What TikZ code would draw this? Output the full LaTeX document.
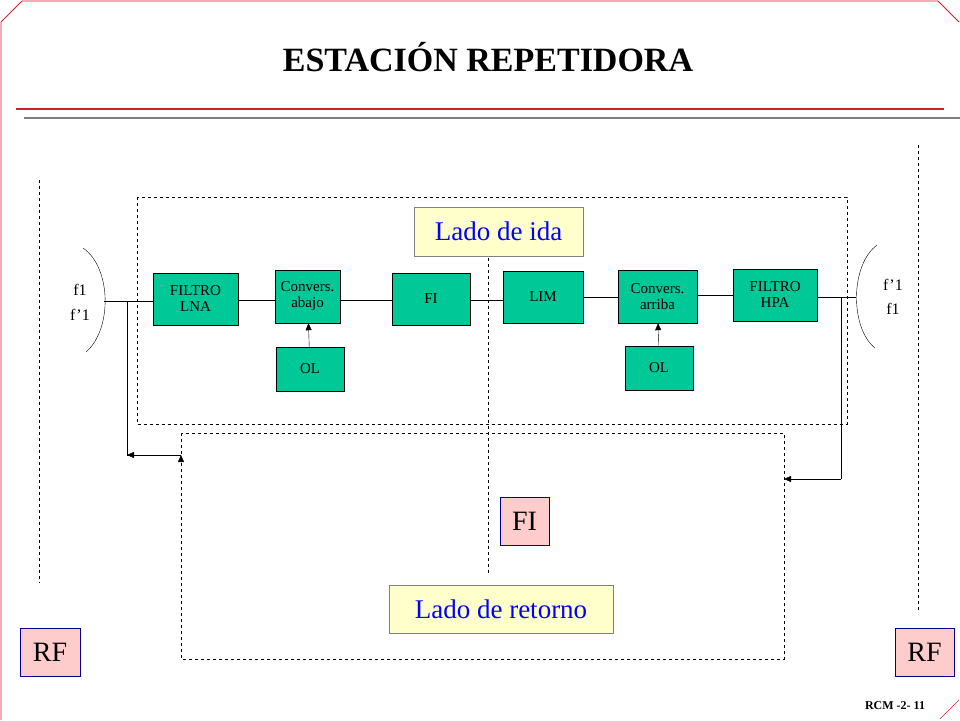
\documentclass[tikz,border=0pt]{standalone}
\usepackage{fontspec}
\setmainfont{Liberation Serif}
\usetikzlibrary{arrows.meta}
\definecolor{grn}{RGB}{0,200,150}
\definecolor{ylw}{RGB}{255,255,204}
\definecolor{pnk}{RGB}{255,204,204}
\definecolor{fr}{RGB}{210,30,40}
\begin{document}
\begin{tikzpicture}[x=1pt,y=-1pt,
  blk/.style={draw,fill=grn,inner sep=0pt,align=center,font=\fontsize{15}{16}\selectfont},
  lbl/.style={draw=gray,fill=ylw,inner sep=0pt,text=blue,font=\fontsize{27}{30}\selectfont},
  pbox/.style={draw=blue!60!black,fill=pnk,inner sep=0pt,font=\fontsize{28}{30}\selectfont},
  dsh/.style={dashed,thin},
  arr/.style={-{Triangle[length=7pt,width=6pt]}}]
\useasboundingbox (0,0) rectangle (960,720);
% frame
\draw[fr,thick] (1,720) -- (1,22) -- (22,1) -- (938,1) -- (959,22);
\draw[fr,thin] (940,719) -- (959,700);
\draw[fr,line width=2pt] (16,109) -- (944,109);
\draw[gray,line width=2pt] (24,118) -- (960,118);
\node (title) at (488,57) {\fontsize{34}{36}\selectfont\bfseries ESTACIÓN REPETIDORA};
\node (rcm) at (895,706) {\fontsize{12}{13}\selectfont\bfseries RCM -2- 11};
% dashed
\draw[dsh] (137,197) rectangle (847,424);
\draw[dsh] (181,433) rectangle (784,659);
\draw[dsh] (488,210) -- (488,573);
\draw[dsh] (39,180) -- (39,583);
\draw[dsh] (918,145) -- (918,612);
% blocks
\node[blk,minimum width=85,minimum height=52] (lna) at (195.5,299) {FILTRO\\LNA};
\node[blk,minimum width=65,minimum height=53] (cab) at (307.5,296.5) {Convers.\\abajo};
\node[blk,minimum width=78,minimum height=52] (fi) at (431,299) {FI};
\node[blk,minimum width=80,minimum height=52] (lim) at (543,297) {LIM};
\node[blk,minimum width=79,minimum height=53] (car) at (657.5,296.5) {Convers.\\arriba};
\node[blk,minimum width=84,minimum height=52] (hpa) at (775,295) {FILTRO\\HPA};
\node[blk,minimum width=68,minimum height=44] (ol1) at (310,369) {OL};
\node[blk,minimum width=68,minimum height=44] (ol2) at (659,368) {OL};
\draw (lna.east |- 0,300) -- (cab.west |- 0,300);
\draw (cab.east |- 0,300) -- (fi.west |- 0,300);
\draw (fi.east |- 0,300) -- (lim.west |- 0,300);
\draw (lim.east |- 0,297) -- (car.west |- 0,297);
\draw (car.east |- 0,295) -- (hpa.west |- 0,295);
\draw[arr] (ol1) -- (cab);
\draw[arr] (ol2) -- (car);
% labels
\node[lbl,minimum width=169,minimum height=49] (ida) at (498.5,231.5) {Lado de ida};
\node[pbox,minimum width=49,minimum height=48] (fib) at (524.5,521) {FI};
\node[lbl,minimum width=224,minimum height=48] (ret) at (501,609) {Lado de retorno};
\node[pbox,minimum width=60,minimum height=48] (rf1) at (50,652) {RF};
\node[pbox,minimum width=59,minimum height=48] (rf2) at (924.5,652) {RF};
% antennas
\draw (83,248) .. controls (112,268) and (112,330) .. (86,352);
\draw (877,245) .. controls (850,265) and (850,328) .. (875,348);
\coordinate (al) at (104,301);
\coordinate (ar) at (856,297);
\draw (al) -- (lna.west |- al);
\draw (hpa.east |- ar) -- (ar);
\coordinate (tl) at (127,301);
\coordinate (tr) at (841,297);
\coordinate (el) at (181,455);
\coordinate (er) at (784,479);
\draw[arr] (tl) -- (127,455) -- (el) ++(0,0);
\draw[arr] (el) -- (127,455);
\draw (tl) -- (127,455);
\draw (tr) -- (841,479);
\draw[arr] (841,479) -- (er);
\node (f1) at (80,290) {\fontsize{16}{17}\selectfont f1};
\node (f1p) at (80,315) {\fontsize{16}{17}\selectfont f’1};
\node (f2p) at (893,285) {\fontsize{16}{17}\selectfont f’1};
\node (f2) at (893,309) {\fontsize{16}{17}\selectfont f1};
\end{tikzpicture}
\end{document}
